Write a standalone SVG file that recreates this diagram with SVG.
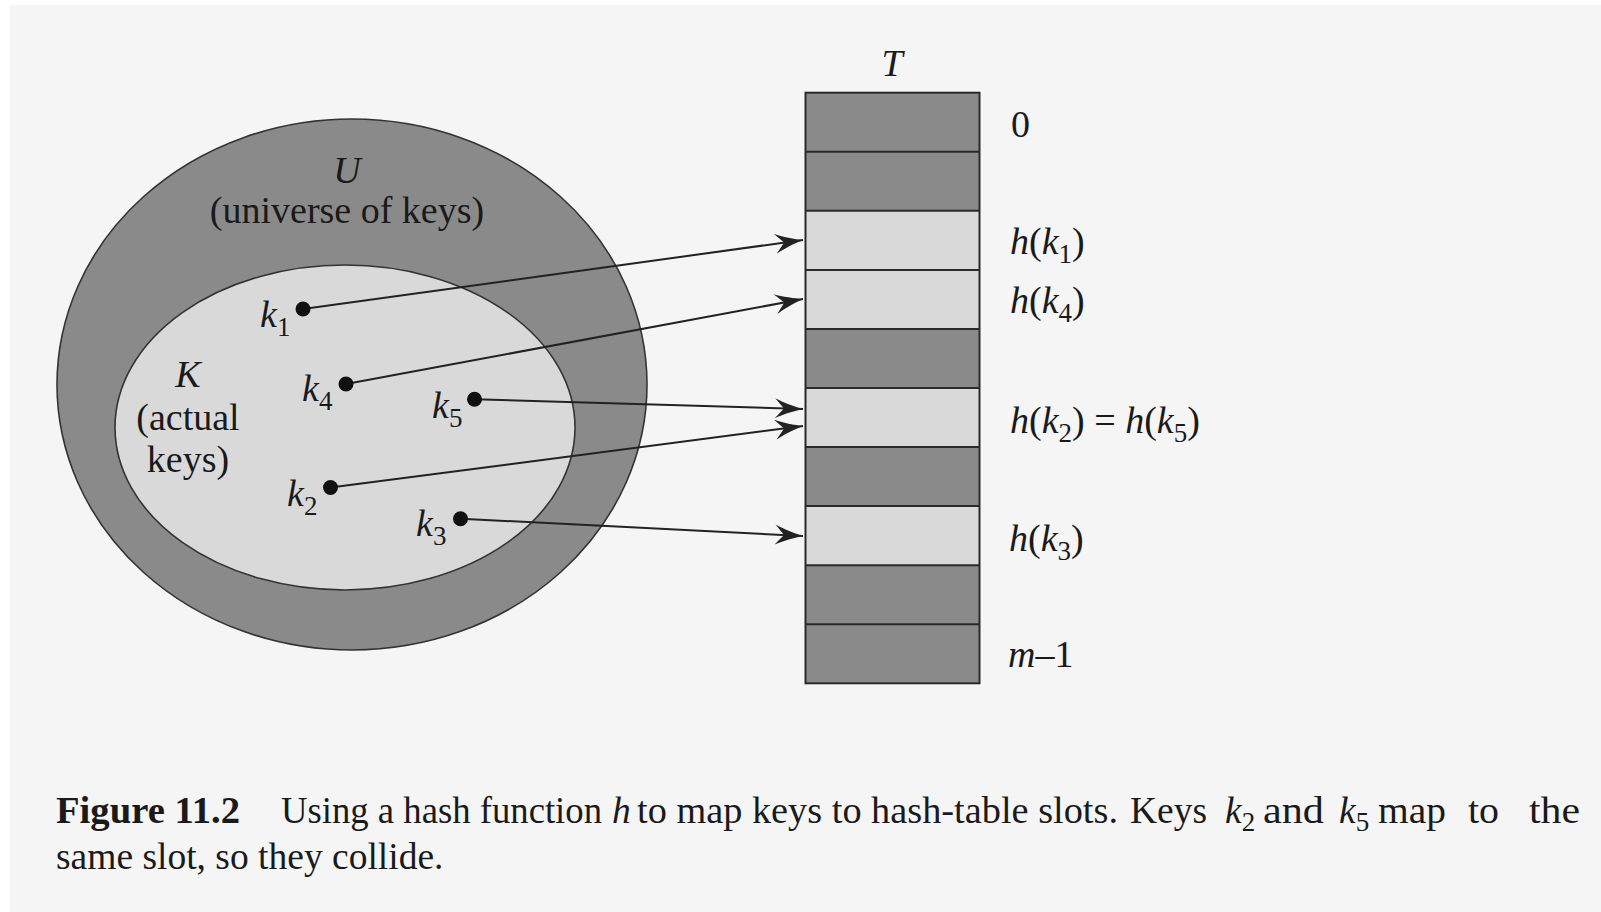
<svg xmlns="http://www.w3.org/2000/svg" width="1601" height="912" viewBox="0 0 1601 912">
  <style>
    text { font-family: "Liberation Serif", "Times New Roman", serif; fill: #1a1a1a; }
    .lbl { font-size: 38px; }
    .it { font-style: italic; }
    .sub { font-size: 27px; font-style: normal; }
    .cap { font-size: 37.5px; }
    .dark { fill: #8a8a8a; }
    .light { fill: #d9d9d9; }
    .sep { stroke: #2a2a2a; stroke-width: 2; }
    .conn { stroke: #222; stroke-width: 2; fill: none; marker-end: url(#head); }
    .dot { fill: #111; }
  </style>
  <defs>
    <marker id="head" markerUnits="userSpaceOnUse" markerWidth="32" markerHeight="24" refX="30" refY="12" orient="auto">
      <path d="M30,12 C22,10 10,6 2,2 L11,12 L2,22 C10,18 22,14 30,12 Z" fill="#222"/>
    </marker>
  </defs>

  <!-- page -->
  <rect x="0" y="0" width="1601" height="912" fill="#ffffff"/>
  <rect x="10" y="5" width="1591" height="907" fill="#f5f5f5"/>

  <!-- universe of keys -->
  <g id="universe">
    <ellipse cx="352" cy="384.5" rx="295" ry="265.5" fill="#8a8a8a" stroke="#333" stroke-width="1.6"/>
    <text class="lbl it" x="347" y="183" text-anchor="middle">U</text>
    <text class="lbl" x="347" y="223" text-anchor="middle">(universe of keys)</text>
  </g>

  <!-- actual keys -->
  <g id="actual-keys">
    <ellipse cx="345" cy="427.5" rx="230" ry="162.5" fill="#d9d9d9" stroke="#333" stroke-width="1.6"/>
    <text class="lbl it" x="188" y="387" text-anchor="middle">K</text>
    <text class="lbl" x="188" y="430" text-anchor="middle">(actual</text>
    <text class="lbl" x="188" y="472" text-anchor="middle">keys)</text>
  </g>

  <!-- connectors: key to slot -->
  <g id="connectors">
    <line class="conn" x1="303" y1="309" x2="803" y2="240"/>
    <line class="conn" x1="346" y1="384" x2="803" y2="299"/>
    <line class="conn" x1="474.5" y1="399.3" x2="803" y2="409"/>
    <line class="conn" x1="330.5" y1="487.5" x2="803" y2="426"/>
    <line class="conn" x1="460.5" y1="518.7" x2="803" y2="536"/>
  </g>

  <!-- keys -->
  <g id="key-k1">
    <circle class="dot" cx="303" cy="309" r="7.5"/>
    <text class="lbl it" x="260" y="327">k<tspan class="sub" dy="9">1</tspan></text>
  </g>
  <g id="key-k4">
    <circle class="dot" cx="346" cy="384" r="7.5"/>
    <text class="lbl it" x="302" y="401">k<tspan class="sub" dy="9">4</tspan></text>
  </g>
  <g id="key-k5">
    <circle class="dot" cx="474.5" cy="399.3" r="7.5"/>
    <text class="lbl it" x="432" y="418">k<tspan class="sub" dy="9">5</tspan></text>
  </g>
  <g id="key-k2">
    <circle class="dot" cx="330.5" cy="487.5" r="7.5"/>
    <text class="lbl it" x="287" y="506">k<tspan class="sub" dy="9">2</tspan></text>
  </g>
  <g id="key-k3">
    <circle class="dot" cx="460.5" cy="518.7" r="7.5"/>
    <text class="lbl it" x="416" y="536">k<tspan class="sub" dy="9">3</tspan></text>
  </g>

  <!-- hash table T -->
  <g id="table">
    <text class="lbl it" x="892" y="76" text-anchor="middle">T</text>
    <rect class="dark"  x="805.5" y="92.7"  width="174" height="59.1"/>
    <rect class="dark"  x="805.5" y="151.8" width="174" height="59.0"/>
    <rect class="light" x="805.5" y="210.8" width="174" height="59.1"/>
    <rect class="light" x="805.5" y="269.9" width="174" height="59.0"/>
    <rect class="dark"  x="805.5" y="328.9" width="174" height="59.1"/>
    <rect class="light" x="805.5" y="388.0" width="174" height="59.1"/>
    <rect class="dark"  x="805.5" y="447.1" width="174" height="59.0"/>
    <rect class="light" x="805.5" y="506.1" width="174" height="59.1"/>
    <rect class="dark"  x="805.5" y="565.2" width="174" height="59.0"/>
    <rect class="dark"  x="805.5" y="624.2" width="174" height="59.1"/>
    <line class="sep" x1="805.5" y1="151.8" x2="979.5" y2="151.8"/>
    <line class="sep" x1="805.5" y1="210.8" x2="979.5" y2="210.8"/>
    <line class="sep" x1="805.5" y1="269.9" x2="979.5" y2="269.9"/>
    <line class="sep" x1="805.5" y1="328.9" x2="979.5" y2="328.9"/>
    <line class="sep" x1="805.5" y1="388.0" x2="979.5" y2="388.0"/>
    <line class="sep" x1="805.5" y1="447.1" x2="979.5" y2="447.1"/>
    <line class="sep" x1="805.5" y1="506.1" x2="979.5" y2="506.1"/>
    <line class="sep" x1="805.5" y1="565.2" x2="979.5" y2="565.2"/>
    <line class="sep" x1="805.5" y1="624.2" x2="979.5" y2="624.2"/>
    <rect x="805.5" y="92.7" width="174" height="590.6" fill="none" stroke="#2a2a2a" stroke-width="2"/>
  </g>

  <!-- slot labels -->
  <g id="slot-labels">
    <text class="lbl" x="1011" y="137">0</text>
    <text class="lbl" x="1010" y="254"><tspan class="it">h</tspan>(<tspan class="it">k</tspan><tspan class="sub" dy="9">1</tspan><tspan dy="-9">)</tspan></text>
    <text class="lbl" x="1010" y="313"><tspan class="it">h</tspan>(<tspan class="it">k</tspan><tspan class="sub" dy="9">4</tspan><tspan dy="-9">)</tspan></text>
    <text class="lbl" x="1010" y="433"><tspan class="it">h</tspan>(<tspan class="it">k</tspan><tspan class="sub" dy="9">2</tspan><tspan dy="-9">) = </tspan><tspan class="it">h</tspan>(<tspan class="it">k</tspan><tspan class="sub" dy="9">5</tspan><tspan dy="-9">)</tspan></text>
    <text class="lbl" x="1009" y="551"><tspan class="it">h</tspan>(<tspan class="it">k</tspan><tspan class="sub" dy="9">3</tspan><tspan dy="-9">)</tspan></text>
    <text class="lbl" x="1008" y="667"><tspan class="it">m</tspan>–1</text>
  </g>

  <!-- caption, first line set justified -->
  <g id="caption">
    <text class="cap" y="823"><tspan x="56" font-weight="bold" textLength="184" lengthAdjust="spacingAndGlyphs">Figure 11.2</tspan><tspan x="281" textLength="321" lengthAdjust="spacingAndGlyphs">Using a hash function</tspan><tspan x="612" class="it">h</tspan><tspan x="637" textLength="481" lengthAdjust="spacingAndGlyphs">to map keys to hash-table slots.</tspan><tspan x="1130" textLength="77" lengthAdjust="spacingAndGlyphs">Keys</tspan><tspan x="1225" class="it">k</tspan><tspan class="sub" dy="8">2</tspan><tspan x="1263" dy="-8" textLength="61" lengthAdjust="spacingAndGlyphs">and</tspan><tspan x="1339" class="it">k</tspan><tspan class="sub" dy="8">5</tspan><tspan x="1378" dy="-8" textLength="68" lengthAdjust="spacingAndGlyphs">map</tspan><tspan x="1468" textLength="31" lengthAdjust="spacingAndGlyphs">to</tspan><tspan x="1529" textLength="51" lengthAdjust="spacingAndGlyphs">the</tspan></text>
    <text class="cap" x="56" y="869">same slot, so they collide.</text>
  </g>
</svg>
